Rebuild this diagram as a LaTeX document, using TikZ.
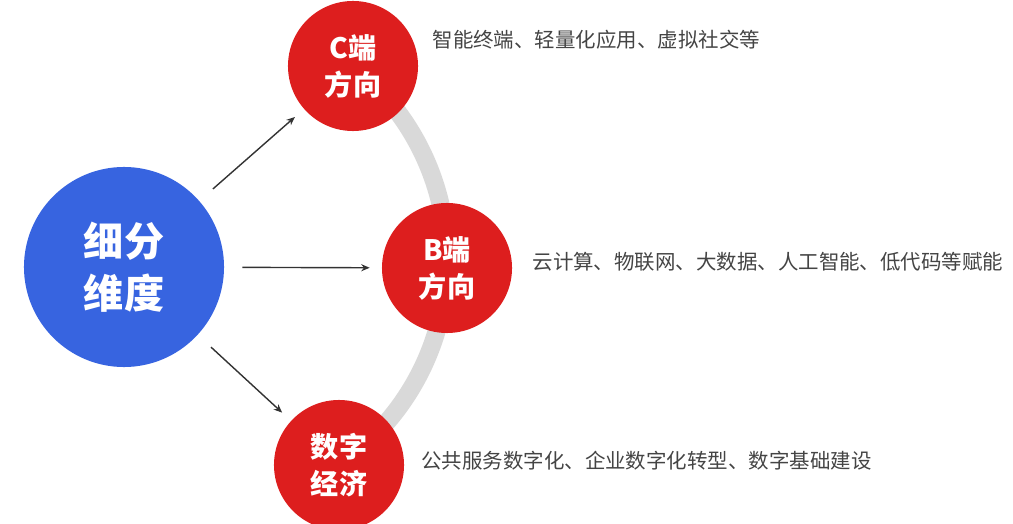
\documentclass[tikz,border=0pt]{standalone}
\usepackage{fontspec}
\setmainfont{Noto Sans CJK SC}
\usetikzlibrary{positioning,arrows.meta,backgrounds}
\definecolor{segblue}{HTML}{3764E0}
\definecolor{dirred}{HTML}{DD1E1E}
\definecolor{bandgray}{HTML}{D9D9D9}
\definecolor{descgray}{HTML}{444444}

\begin{document}
\begin{tikzpicture}[
x=0.025cm, y=-0.025cm,
mainball/.style={circle, fill=segblue, text=white, minimum size=5cm, align=center, font=\fontsize{28.5}{37}\selectfont\bfseries},
subball/.style={circle, fill=dirred, text=white, minimum size=3.25cm, align=center, font=\fontsize{20}{26.3}\selectfont\bfseries},
desc/.style={inner sep=0pt, text=descgray, font=\fontsize{14.55}{17}\selectfont},
arr/.style={-{Stealth[length=6pt,width=5pt]}, draw=black!80, line width=1pt, shorten <=0.45cm, shorten >=0.3cm},
band/.style={draw=bandgray, line width=0.45cm}
]
\useasboundingbox (0,0) rectangle (1013,524);

\node[mainball] (seg) at (124,267) {细分\\维度};
\node[subball] (c) at (353,66) {C端\\方向};
\node[subball] (b) at (447,268) {B端\\方向};
\node[subball] (d) at (339,465) {数字\\经济};

\node[desc, right=0.35cm of c.east, yshift=0.65cm] (ctext) {智能终端、轻量化应用、虚拟社交等};
\node[desc, right=0.5cm of b.east, yshift=0.15cm] (btext) {云计算、物联网、大数据、人工智能、低代码等赋能};
\node[desc, right=0.42cm of d.east, yshift=0.12cm] (dtext) {公共服务数字化、企业数字化转型、数字基础建设};

% band behind the three directions
\begin{scope}[on background layer]
\draw[band] (c.center) arc[start angle=-51.6, end angle=55.7, radius=248];
\end{scope}

\draw[arr] (seg) -- (c);
\draw[arr] (seg) -- (b);
\draw[arr] (seg) -- (d);
\end{tikzpicture}
\end{document}
